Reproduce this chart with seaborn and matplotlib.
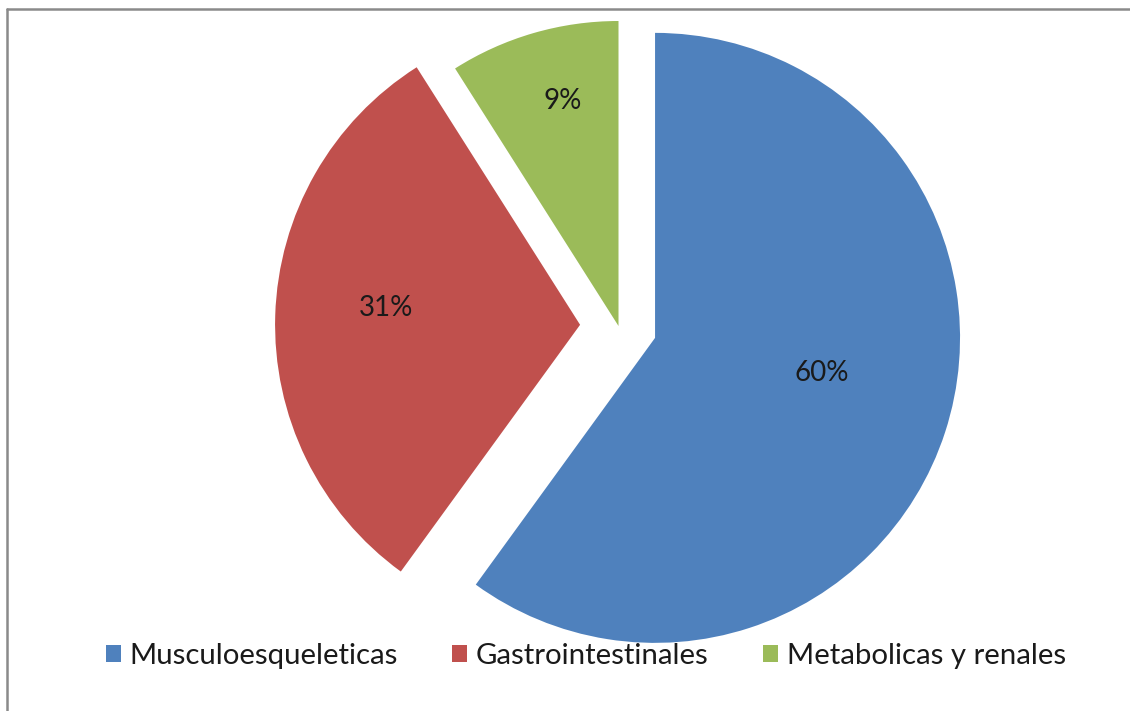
import numpy as np
import seaborn as sns
import matplotlib.pyplot as plt
from matplotlib.patches import Patch
from matplotlib.lines import Line2D

# datos del grafico
categorias = ['Musculoesqueleticas', 'Gastrointestinales', 'Metabolicas y renales']
porcentajes = [60, 31, 9]
colores = ['#4F81BD', '#C0504D', '#9BBB59']
separacion = [0.126, 0.126, 0.0]

# posicion de las etiquetas (distancia relativa al radio, angulo en grados)
dist_etiqueta = [0.56, 0.64, 0.76]
ang_etiqueta = [-12, 175, 104]

sns.set_theme(style='white')
plt.rcParams['font.family'] = ['Lato', 'DejaVu Sans']

W, H = 1130, 711
fig = plt.figure(figsize=(W / 100, H / 100), dpi=100)
ax = fig.add_axes([0, 0, 1, 1])

# centro del pastel en pixeles y radio
cx, cy, r = 618.5, 326, 305

wedges, textos = ax.pie(porcentajes, colors=colores, startangle=90, counterclock=False,
                        explode=separacion, wedgeprops=dict(linewidth=0))

for w, d, a, p in zip(wedges, dist_etiqueta, ang_etiqueta, porcentajes):
    x0, y0 = w.center
    t = np.deg2rad(a)
    ax.text(x0 + d * np.cos(t), y0 + d * np.sin(t), f'{p}%', ha='center', va='center',
            fontsize=20, color='#1a1a1a')

ax.set_xlim(-cx / r, (W - cx) / r)
ax.set_ylim(-(H - cy) / r, cy / r)
ax.set_aspect('equal')
ax.axis('off')

manejadores = [Patch(facecolor=c, edgecolor='none') for c in colores]
fig.legend(manejadores, categorias, loc='center', bbox_to_anchor=(586 / W, 1 - 656 / H),
           ncol=3, frameon=False, fontsize=21.2, handlelength=0.5, handleheight=0.5,
           handletextpad=0.3, columnspacing=1.85, labelcolor='#1a1a1a')

# borde gris del area del grafico
borde = '#8a8a8a'
fig.add_artist(Line2D([7 / W, 1], [1 - 9 / H, 1 - 9 / H], color=borde, linewidth=1.8,
                      transform=fig.transFigure))
fig.add_artist(Line2D([7 / W, 7 / W], [0, 1 - 9 / H], color=borde, linewidth=1.8,
                      transform=fig.transFigure))

plt.savefig('out.png', dpi=100)
plt.close()
